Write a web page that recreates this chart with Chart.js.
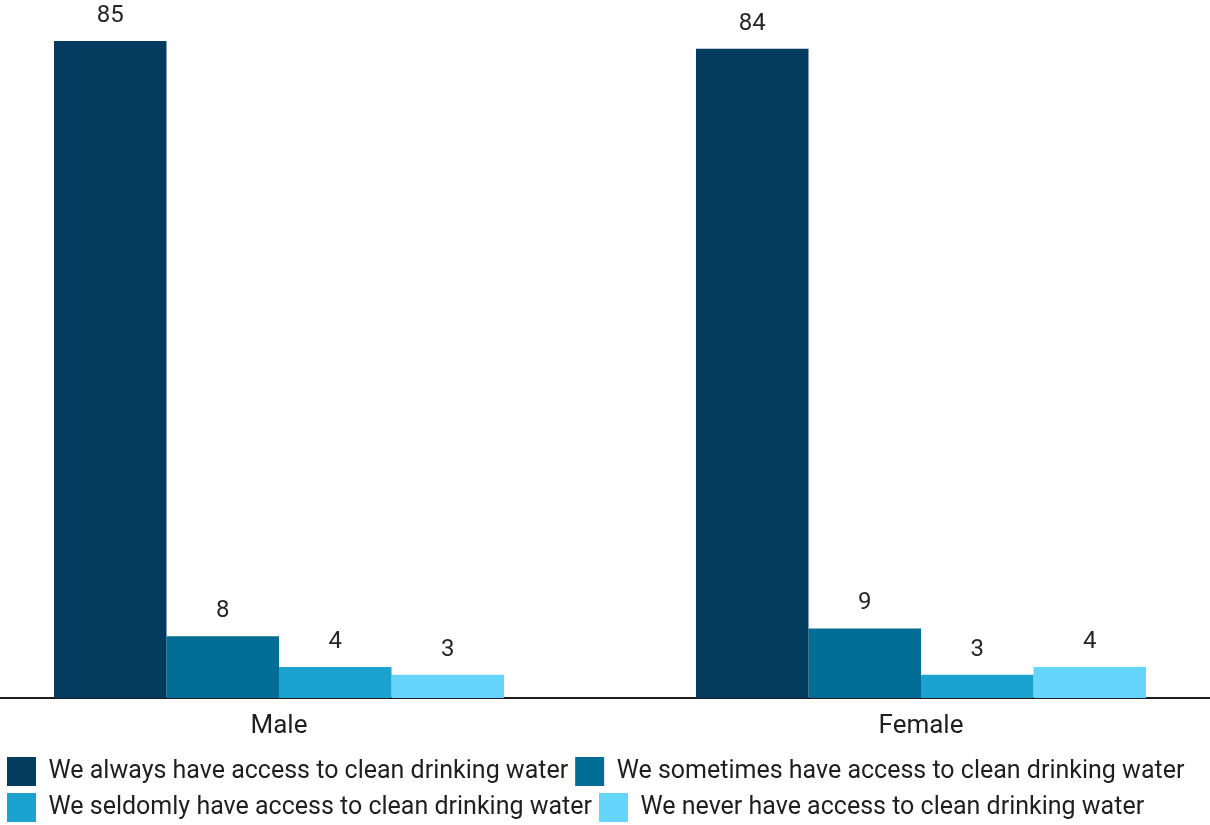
<!DOCTYPE html>
<html>
<head>
<meta charset="utf-8">
<script src="https://cdn.jsdelivr.net/npm/chart.js@4/dist/chart.umd.min.js"></script>
<style>
  html, body { margin: 0; padding: 0; background: #ffffff; overflow: hidden; }
  #wrap { position: absolute; left: 0; top: 0; width: 1210px; height: 832px; }
</style>
</head>
<body>
<div id="wrap"><canvas id="c"></canvas></div>
<script>
const categories = ['Male', 'Female'];
const seriesNames = [
  'We always have access to clean drinking water',
  'We sometimes have access to clean drinking water',
  'We seldomly have access to clean drinking water',
  'We never have access to clean drinking water'
];
const alwaysValues = [85, 84];
const sometimesValues = [8, 9];
const seldomValues = [4, 3];
const neverValues = [3, 4];
const seriesColors = ['#033b5e', '#016c94', '#1ba2ce', '#66d5fc'];

const valueLabels = {
  id: 'valueLabels',
  afterDatasetsDraw(chart) {
    const ctx = chart.ctx;
    ctx.save();
    ctx.font = '24px Roboto';
    ctx.fillStyle = '#262626';
    ctx.textAlign = 'center';
    ctx.textBaseline = 'alphabetic';
    chart.data.datasets.forEach((ds, di) => {
      const meta = chart.getDatasetMeta(di);
      meta.data.forEach((bar, i) => {
        ctx.fillText(String(ds.data[i]), bar.x, bar.y - 19);
      });
    });
    ctx.restore();
  }
};

const values = [alwaysValues, sometimesValues, seldomValues, neverValues];

new Chart(document.getElementById('c'), {
  type: 'bar',
  data: {
    labels: categories,
    datasets: seriesNames.map((name, i) => ({
      label: name,
      data: values[i],
      backgroundColor: seriesColors[i],
      borderWidth: 0,
      categoryPercentage: 0.701,
      barPercentage: 1.0
    }))
  },
  options: {
    responsive: true,
    maintainAspectRatio: false,
    animation: false,
    layout: { padding: 0 },
    plugins: {
      legend: {
        position: 'bottom',
        align: 'start',
        labels: {
          boxWidth: 29,
          boxHeight: 29,
          padding: 7,
          color: '#1f1f1f',
          font: { family: 'Roboto', size: 25 }
        }
      },
      tooltip: { enabled: false }
    },
    scales: {
      x: {
        grid: { display: false, drawTicks: false },
        border: { display: true, color: '#1e1e1e', width: 2 },
        ticks: { color: '#1f1f1f', padding: 13, font: { family: 'Roboto', size: 26 } },
        afterBuildTicks(scale) {
          scale._startValue = -279 / 642;
          scale._valueRange = 1210 / 642;
        },
        afterFit(scale) { scale.height = 52; }
      },
      y: {
        display: false,
        min: 0,
        max: 90.3
      }
    }
  },
  plugins: [valueLabels]
});
</script>
</body>
</html>
